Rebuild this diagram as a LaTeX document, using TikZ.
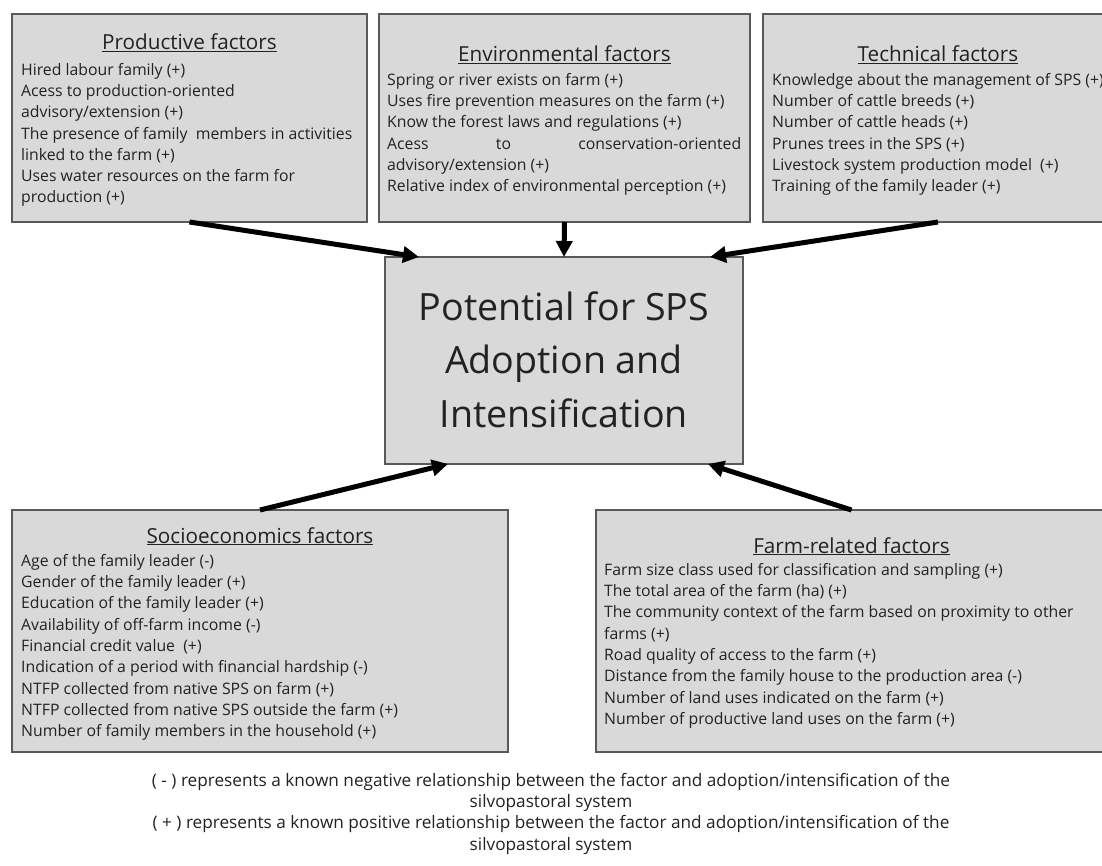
\documentclass[tikz,border=0pt]{standalone}
\usepackage{fontspec}
\setmainfont{Open Sans}
\usetikzlibrary{arrows.meta,calc}
\definecolor{boxfill}{HTML}{D9D9D9}
\definecolor{boxline}{HTML}{595959}
\definecolor{txt}{HTML}{222222}
\begin{document}
\begin{tikzpicture}[x=1pt,y=-1pt,
  box/.style={draw=boxline, fill=boxfill, line width=1.4pt, rectangle, anchor=north west, inner sep=0pt, outer sep=0pt},
  ttl/.style={anchor=base, inner sep=0pt, text=txt, font=\fontsize{20.7}{24}\selectfont},
  body/.style={anchor=north west, inner sep=0pt, text=txt, align=left, font=\fontsize{15.8}{21.3}\selectfont},
  centtext/.style={anchor=north, inner sep=0pt, text=txt, align=center, font=\fontsize{37.6}{53.5}\selectfont},
  legend/.style={anchor=north, inner sep=0pt, text=txt, align=center, font=\fontsize{17.2}{21.3}\selectfont},
  conn/.style={line width=5pt, black, -{Triangle[length=16pt,width=16pt]}}]
\useasboundingbox (0,0) rectangle (1102,866);
\fill[white] (0,0) rectangle (1102,866);

% boxes
\node[box, minimum width=355pt, minimum height=208pt] (prod) at (12,14) {};
\node[box, minimum width=371pt, minimum height=208pt] (env) at (379,14) {};
\node[box, minimum width=350pt, minimum height=208pt] (tech) at (763,14) {};
\node[box, minimum width=358pt, minimum height=207pt] (cen) at (385,257) {};
\node[box, minimum width=496pt, minimum height=242pt] (soc) at (12,510) {};
\node[box, minimum width=511pt, minimum height=242pt] (farm) at (596,510) {};

% titles
\node[ttl] (prodT) at (189.5,50) {\underline{Productive factors}};
\node[ttl] (envT) at (564.5,62) {\underline{Environmental factors}};
\node[ttl] (techT) at (938,62) {\underline{Technical factors}};
\node[ttl] (socT) at (260,543) {\underline{Socioeconomics factors}};
\node[ttl] (farmT) at (851.5,553) {\underline{Farm-related factors}};

% bodies
\node[body] (prodB) at (21,59) {\rule{0pt}{16pt}Hired labour family (+)\\
Acess to production-oriented\\
advisory/extension (+)\\
The presence of family\ \ members in activities\\
linked to the farm (+)\\
Uses water resources on the farm for\\
production (+)};

\node[body] (envB) at (387,69) {\rule{0pt}{16pt}Spring or river exists on farm (+)\\
Uses fire prevention measures on the farm (+)\\
Know the forest laws and regulations (+)\\
\hbox to 354pt{Acess\hfill to\hfill conservation-oriented}\\
advisory/extension (+)\\
Relative index of environmental perception (+)};

\node[body] (techB) at (772,69) {\rule{0pt}{16pt}Knowledge about the management of SPS (+)\\
Number of cattle breeds (+)\\
Number of cattle heads (+)\\
Prunes trees in the SPS (+)\\
Livestock system production model\ \ (+)\\
Training of the family leader (+)};

\node[body] (socB) at (21,550) {\rule{0pt}{16pt}Age of the family leader (-)\\
Gender of the family leader (+)\\
Education of the family leader (+)\\
Availability of off-farm income (-)\\
Financial credit value\ \ (+)\\
Indication of a period with financial hardship (-)\\
NTFP collected from native SPS on farm (+)\\
NTFP collected from native SPS outside the farm (+)\\
Number of family members in the household (+)};

\node[body] (farmB) at (604,559) {\rule{0pt}{16pt}Farm size class used for classification and sampling (+)\\
The total area of the farm (ha) (+)\\
The community context of the farm based on proximity to other\\
farms (+)\\
Road quality of access to the farm (+)\\
Distance from the family house to the production area (-)\\
Number of land uses indicated on the farm (+)\\
Number of productive land uses on the farm (+)};

% central text
\node[centtext] (cenT) at (564,280) {\rule{0pt}{40pt}Potential for SPS\\ Adoption and\\ Intensification};

% legend
\node[legend] (leg) at (551,770) {\rule{0pt}{16pt}( - ) represents a known negative relationship between the factor and adoption/intensification of the\\
silvopastoral system\\
( + ) represents a known positive relationship between the factor and adoption/intensification of the\\
silvopastoral system};

% arrow end points
\coordinate (pA) at ($(cen.north west)+(34,0)$);
\coordinate (tA) at ($(cen.north east)+(-33,0)$);
\coordinate (sA) at ($(cen.south west)+(63,0)$);
\coordinate (fA) at ($(cen.south east)+(-35,0)$);

\draw[conn] (prod.south) -- (pA);
\draw[conn] (env.south) -- (cen.north);
\draw[conn] (tech.south) -- (tA);
\draw[conn] (soc.north) -- (sA);
\draw[conn] (farm.north) -- (fA);
\end{tikzpicture}
\end{document}
